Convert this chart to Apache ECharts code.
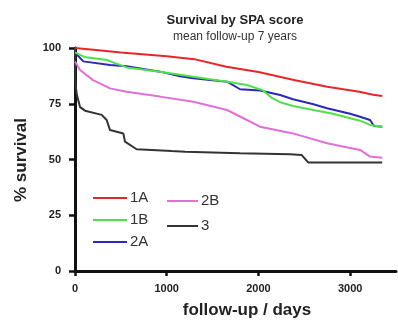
<!DOCTYPE html>
<html>
<head>
<meta charset="utf-8">
<script src="https://cdn.jsdelivr.net/npm/echarts@6/dist/echarts.min.js"></script>
<style>html,body{margin:0;padding:0;background:#fff}#c{width:398px;height:320px}</style>
</head>
<body>
<div id="c"></div>
<script>
const seriesNames = ['1A', '1B', '2A', '2B', '3'];
const colors = ['#e8262a', '#4fe04a', '#2a2ab4', '#e06fd6', '#333333'];
const xTicks = [0, 1000, 2000, 3000];
const yTicks = [0, 25, 50, 75, 100];

const s1A = [[0,100],[200,99.2],[500,98],[1000,96.3],[1300,95],[1650,91.6],[2000,89.2],[2400,85.5],[2750,82.6],[3100,80.4],[3250,79],[3350,78.5]];
const s1B = [[0,98],[100,96],[350,94.6],[400,93.8],[564,91.3],[927,89.4],[1290,87.1],[1658,84.9],[1876,83.4],[2050,81],[2150,77.5],[2237,75.7],[2377,74],[2600,72.2],[2800,70.6],[3108,67.4],[3217,65.5],[3350,64.7]];
const s2A = [[0,98],[90,94],[382,92.4],[564,91.8],[927,89.4],[1145,87.3],[1290,86.4],[1658,84.9],[1800,81.5],[2017,80.9],[2237,78.9],[2377,77],[2600,74.8],[2748,73],[3000,70.5],[3108,69.2],[3217,67.7],[3260,65],[3350,64.7]];
const s2B = [[0,94],[55,90.1],[196,85.6],[382,81.9],[564,80.4],[927,78.2],[1290,75.9],[1658,72.2],[1836,68.5],[2017,64.7],[2377,61.7],[2748,57.3],[3000,55.2],[3108,54.3],[3217,51.3],[3350,50.8]];
const s3 = [[0,100],[5,84],[20,79],[55,73.5],[109,71.9],[291,70],[345,67.7],[382,63.2],[527,61.7],[545,58],[672,54.6],[836,54.3],[1054,53.8],[1200,53.5],[1800,52.8],[2345,52.3],[2472,52],[2545,48.6],[3350,48.6]];
const allData = [s1A, s1B, s2A, s2B, s3];

const font = '"Liberation Sans", Arial, sans-serif';
const chart = echarts.init(document.getElementById('c'), null, {renderer: 'canvas'});
chart.setOption({
  animation: false,
  title: {
    text: 'Survival by SPA score',
    subtext: 'mean follow-up 7 years',
    left: 230, top: 9, textAlign: 'center', itemGap: 4,
    textStyle: {fontFamily: font, fontSize: 13, fontWeight: 'bold', color: '#222'},
    subtextStyle: {fontFamily: font, fontSize: 12, color: '#333'}
  },
  legend: [
    {data: seriesNames.slice(0,3), orient: 'vertical', left: 88, top: 185, icon: 'rect',
     itemWidth: 34, itemHeight: 2, itemGap: 6,
     textStyle: {fontFamily: font, fontSize: 15, color: '#333', lineHeight: 16, padding: [0,0,0,-2]}},
    {data: seriesNames.slice(3), orient: 'vertical', left: 162, top: 188, icon: 'rect',
     itemWidth: 31, itemHeight: 2, itemGap: 9,
     textStyle: {fontFamily: font, fontSize: 15, color: '#333', lineHeight: 16, padding: [0,0,0,-2]}}
  ],
  grid: {left: 75, right: 2, top: 48, bottom: 49, containLabel: false},
  xAxis: {
    type: 'value', min: 0, max: 3500,
    axisLine: {show: true, lineStyle: {color: '#111', width: 3}},
    axisTick: {show: true, length: 5, lineStyle: {color: '#111', width: 2.5}, customValues: xTicks},
    axisLabel: {customValues: xTicks, formatter: v => String(v), fontFamily: font, fontSize: 11, fontWeight: 'bold', color: '#222', margin: 12},
    splitLine: {show: false}
  },
  yAxis: {
    type: 'value', min: 0, max: 100, interval: 25,
    axisLine: {show: true, lineStyle: {color: '#111', width: 3}},
    axisTick: {show: true, length: 6, lineStyle: {color: '#111', width: 2.5}},
    axisLabel: {fontFamily: font, fontSize: 11, fontWeight: 'bold', color: '#222', margin: 14},
    splitLine: {show: false}
  },
  graphic: [
    {type: 'text', style: {text: 'follow-up / days', font: 'bold 17px ' + font, fill: '#222', textAlign: 'center', textVerticalAlign: 'middle', x: 247, y: 310}},
    {type: 'text', x: 21, y: 160, rotation: Math.PI/2, style: {text: '% survival', font: 'bold 17px ' + font, fill: '#222', textAlign: 'center', textVerticalAlign: 'middle'}}
  ],
  series: seriesNames.map((n, i) => ({
    name: n, type: 'line', data: allData[i], showSymbol: false, symbol: 'none',
    color: colors[i], lineStyle: {width: 2, color: colors[i]}, itemStyle: {color: colors[i]}, z: 5 - i
  }))
});
</script>
</body>
</html>
